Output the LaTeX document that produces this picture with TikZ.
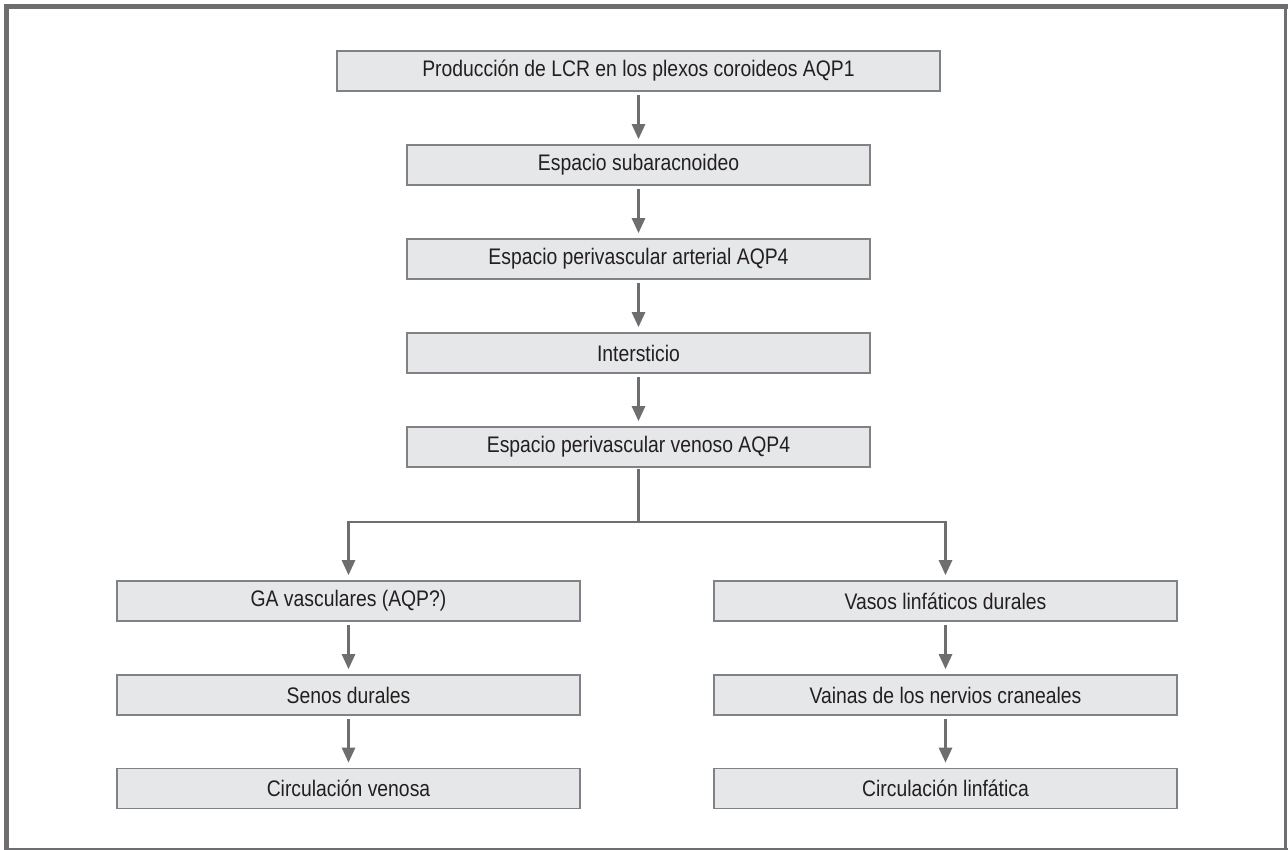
\documentclass[tikz,border=0pt]{standalone}
\usepackage{fontspec}
\setmainfont{Liberation Sans}[FakeStretch=0.86]
\usetikzlibrary{arrows.meta}
\definecolor{framegray}{HTML}{6D6E70}
\definecolor{boxfill}{HTML}{E6E7E8}
\definecolor{boxline}{HTML}{808285}
\definecolor{txt}{HTML}{231F20}
\tikzset{
  stepbox/.style={draw=boxline, line width=1.6pt, fill=boxfill, minimum height=40pt, inner sep=0pt, font=\fontsize{22.5}{26}\selectfont, text=txt},
  flow/.style={draw=framegray, line width=2.6pt, -{Triangle[length=15pt,width=13pt]}},
  flowline/.style={draw=framegray, line width=2.6pt}
}
\begin{document}
\begin{tikzpicture}[x=1pt,y=-1pt]
\useasboundingbox (0,0) rectangle (1288,850);
% frame
\fill[white] (0,0) rectangle (1288,850);
\draw[framegray, line width=5pt] (6.5,4) -- (6.5,850);
\draw[framegray, line width=5pt] (4,6.5) -- (1288,6.5);
\draw[framegray, line width=3.5pt] (1285.5,4) -- (1285.5,850);
\draw[framegray, line width=2pt] (4,848.5) -- (1288,848.5);
% nodes
\node[stepbox, minimum width=603pt] (a) at (638.5,71) {Producción de LCR en los plexos coroideos AQP1};
\node[stepbox, minimum width=463pt] (b) at (638.5,165) {Espacio subaracnoideo};
\node[stepbox, minimum width=463pt] (c) at (638.5,259) {Espacio perivascular arterial AQP4};
\node[stepbox, minimum width=463pt] (d) at (638.5,353) {Intersticio};
\node[stepbox, minimum width=463pt] (e) at (638.5,447) {Espacio perivascular venoso AQP4};
\node[stepbox, minimum width=463pt] (l1) at (348.5,601) {GA vasculares (AQP?)};
\node[stepbox, minimum width=463pt] (l2) at (348.5,695) {Senos durales};
\node[stepbox, minimum width=463pt] (l3) at (348.5,788.5) {Circulación venosa};
\node[stepbox, minimum width=463pt] (r1) at (945.5,601) {Vasos linfáticos durales};
\node[stepbox, minimum width=463pt] (r2) at (945.5,695) {Vainas de los nervios craneales};
\node[stepbox, minimum width=463pt] (r3) at (945.5,788.5) {Circulación linfática};
% connectors
\coordinate (j) at (638.5,522);
\draw[flow] ([yshift=-3pt]a.south) -- ([yshift=5pt]b.north);
\draw[flow] ([yshift=-3pt]b.south) -- ([yshift=5pt]c.north);
\draw[flow] ([yshift=-3pt]c.south) -- ([yshift=5pt]d.north);
\draw[flow] ([yshift=-3pt]d.south) -- ([yshift=5pt]e.north);
\draw[flowline] ([yshift=-1pt]e.south) -- (j);
\draw[flow] (j) -| ([yshift=5pt]l1.north);
\draw[flow] (j) -| ([yshift=5pt]r1.north);
\draw[flow] ([yshift=-3pt]l1.south) -- ([yshift=5pt]l2.north);
\draw[flow] ([yshift=-3pt]l2.south) -- ([yshift=5pt]l3.north);
\draw[flow] ([yshift=-3pt]r1.south) -- ([yshift=5pt]r2.north);
\draw[flow] ([yshift=-3pt]r2.south) -- ([yshift=5pt]r3.north);
\end{tikzpicture}
\end{document}
